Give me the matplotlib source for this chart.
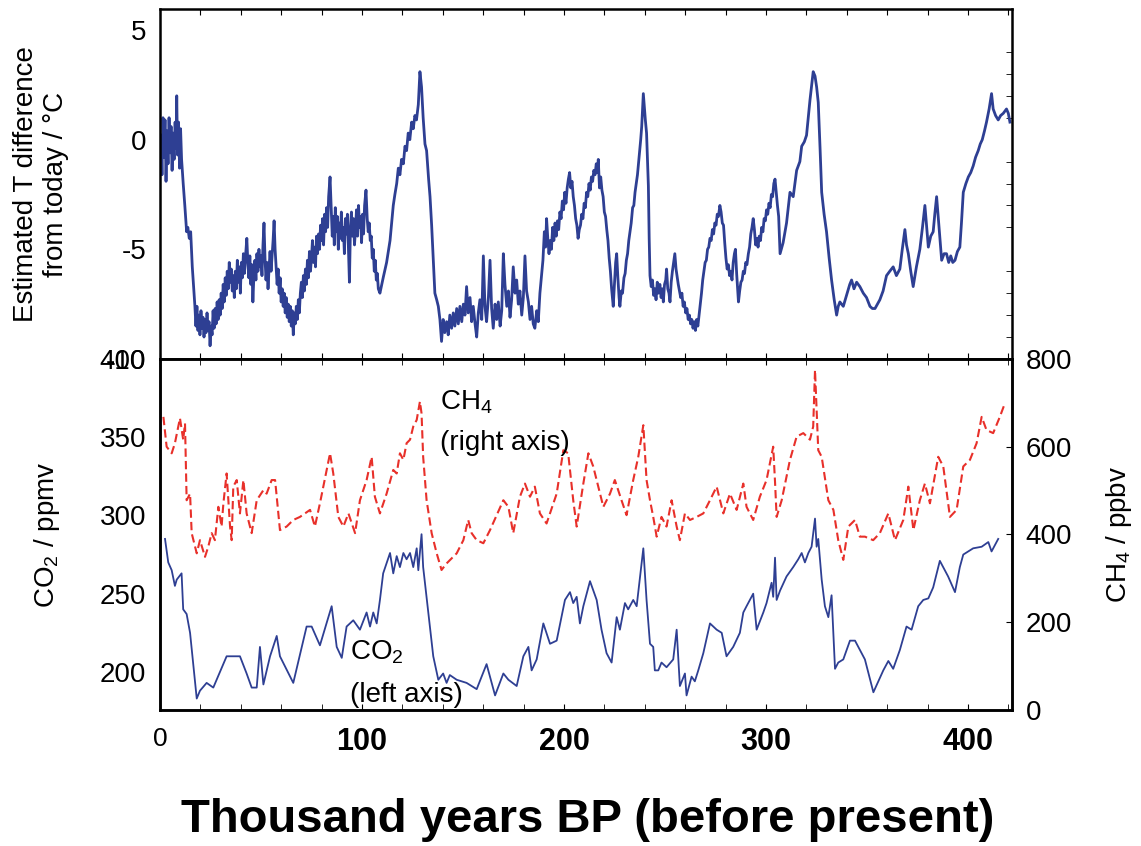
import matplotlib
matplotlib.use("Agg")
import matplotlib.pyplot as plt
from matplotlib.ticker import MultipleLocator

# temperature difference from today (deg C)
temp_age = [0.5, 1.0, 1.5, 2.0, 2.5, 3.0, 3.5, 4.0, 4.5, 5.0,
            5.5, 6.0, 6.5, 7.0, 7.5, 8.0, 8.3, 8.7, 9.2, 9.7,
            10.2, 10.7, 11.5, 12.3, 13.2, 13.8, 14.5, 15.2, 16.0, 16.8,
            17.3, 17.8, 18.3, 18.8, 19.3, 19.8, 20.3, 20.8, 21.3, 21.8,
            22.3, 22.8, 23.3, 23.8, 24.3, 24.8, 25.3, 25.8, 26.3, 26.8,
            27.3, 27.8, 28.3, 28.8, 29.3, 29.8, 30.3, 30.8, 31.3, 31.8,
            32.3, 32.8, 33.3, 33.8, 34.3, 34.8, 35.3, 35.8, 36.3, 36.8,
            37.3, 37.8, 38.3, 38.8, 39.3, 39.8, 40.3, 40.8, 41.3, 41.8,
            42.3, 43.0, 43.5, 44.0, 44.5, 45.0, 45.5, 46.0, 46.5, 47.0,
            47.5, 48.0, 48.5, 49.0, 49.5, 50.0, 50.5, 51.0, 51.5, 52.0,
            52.5, 53.0, 53.5, 54.0, 54.5, 55.0, 55.5, 56.0, 56.5, 57.0,
            57.5, 58.0, 58.5, 59.0, 59.5, 60.0, 60.5, 61.0, 61.5, 62.0,
            62.5, 63.0, 63.5, 64.0, 64.5, 65.0, 65.5, 66.0, 66.5, 67.0,
            67.5, 68.0, 68.5, 69.0, 69.5, 70.0, 70.5, 71.0, 71.5, 72.0,
            72.5, 73.0, 73.5, 74.0, 74.5, 75.0, 75.5, 76.0, 76.5, 77.0,
            77.5, 78.0, 78.5, 79.0, 79.5, 80.0, 80.5, 81.0, 81.5, 82.0,
            82.5, 83.0, 83.5, 84.2, 84.8, 85.3, 85.8, 86.3, 86.8, 87.3,
            87.8, 88.3, 88.8, 89.3, 89.8, 90.3, 90.8, 91.3, 91.8, 92.3,
            92.8, 93.3, 93.8, 94.3, 94.8, 95.3, 95.8, 96.3, 96.8, 97.3,
            97.8, 98.3, 98.8, 99.3, 99.8, 100.3, 100.8, 101.3, 102.0, 102.6,
            103.1, 103.6, 104.1, 104.6, 105.1, 105.6, 106.1, 106.6, 107.1, 107.6,
            108.1, 108.9, 110.5, 112.2, 113.9, 115.5, 116.3, 117.2, 118.0, 118.8,
            119.6, 120.5, 121.3, 122.1, 122.9, 123.7, 124.6, 125.4, 126.2, 127.0,
            127.9, 128.7, 129.5, 130.3, 131.2, 132.0, 133.0, 133.7, 134.5, 135.3,
            136.1, 137.0, 137.8, 138.6, 139.4, 140.2, 141.0, 141.9, 142.7, 143.5,
            144.4, 145.2, 146.0, 146.9, 147.7, 148.5, 149.4, 150.2, 151.0, 151.8,
            152.6, 153.5, 154.3, 155.1, 156.0, 156.8, 157.6, 158.4, 159.3, 160.1,
            160.9, 161.7, 162.6, 163.4, 164.2, 165.0, 165.9, 166.7, 167.5, 168.4,
            169.2, 170.0, 170.8, 171.7, 172.5, 173.3, 174.1, 174.9, 175.8, 176.6,
            177.4, 178.2, 179.1, 179.9, 180.7, 181.5, 182.4, 183.2, 184.0, 184.8,
            185.6, 186.5, 187.3,
            188.1, 188.9, 189.6, 190.3, 190.9, 191.4, 192.0, 192.6, 193.2, 193.8,
            194.4, 195.0, 195.6, 196.2, 196.8, 197.4, 198.0, 198.6, 199.2, 199.8,
            200.4, 201.0, 201.6, 202.2, 202.8, 203.4, 204.0, 204.6, 205.2, 205.8,
            206.4, 207.0, 207.6, 208.2, 208.8, 209.4, 210.0, 210.6, 211.2, 211.8,
            212.4, 213.0, 213.6, 214.2, 214.8, 215.4, 216.0, 216.6, 217.0, 217.6,
            218.2, 218.8, 219.4, 220.0, 220.6, 221.2, 221.8, 222.4, 223.0, 223.6,
            224.4, 225.0, 225.6, 226.1, 226.7, 227.3, 227.7, 228.4, 229.0, 229.7,
            230.3, 230.9, 231.5, 232.1, 232.7, 233.3, 234.0, 234.6, 235.2, 235.8,
            236.4, 236.8, 237.4, 238.0, 238.5, 239.0, 239.3, 239.8, 240.3, 240.9,
            241.4, 241.8, 242.2, 242.6, 243.2, 243.8, 244.4, 245.0, 245.6, 246.2,
            246.8, 247.5, 248.1, 248.7, 249.2, 249.8, 250.4, 250.8, 251.4, 252.0,
            252.5, 253.1, 253.7, 254.3, 254.9, 255.5, 256.1, 256.6, 257.2, 257.8,
            258.4, 259.0, 259.6, 260.3, 260.9, 261.5, 262.1, 262.7, 263.3, 263.9,
            264.5, 265.1, 265.7, 266.3, 266.9, 267.5, 268.1, 268.7, 269.3, 269.9,
            270.5, 271.1, 271.7, 272.3, 272.9, 273.5, 274.1, 274.7, 275.3, 275.9,
            276.5, 277.2, 277.8, 278.4, 279.0, 279.6, 280.2, 280.8, 281.4, 282.0,
            282.6, 283.2, 283.8, 284.4, 284.9, 285.5, 286.0, 286.4, 287.0, 287.6,
            288.2, 288.8, 289.4, 290.0, 290.6, 291.3, 291.9, 292.5, 293.1, 293.7,
            294.3, 294.9, 295.5, 296.1, 296.7, 297.3, 297.9, 298.5, 299.1, 299.7,
            300.3, 300.9, 301.5, 302.1, 302.7, 303.3, 303.9, 304.5, 305.1, 305.7,
            306.3, 307.0,
            308.5, 310.2, 311.9, 313.5, 315.2, 316.8, 317.7, 319.0, 320.1, 321.8,
            323.4, 324.3, 325.1, 325.9, 326.8, 327.6, 328.8, 330.0, 331.3, 332.5,
            333.8, 335.0, 335.8, 336.6, 338.3, 339.9, 341.5, 342.4, 343.6, 344.9,
            346.5, 348.2, 349.8, 351.5, 352.7, 354.0, 355.2, 356.4, 358.0, 359.7,
            361.3, 363.0, 364.6, 366.3, 367.5, 368.8, 369.6, 370.5, 371.7, 372.9,
            374.5, 376.2, 377.5, 378.7, 379.5, 380.4, 381.6, 382.8, 383.6, 384.5,
            385.7, 387.0, 388.2, 389.4, 390.5, 391.5, 392.5, 393.6, 394.8, 396.0,
            396.8, 397.7, 399.0, 400.2, 401.4, 402.6, 403.8, 405.1, 406.1, 407.1,
            408.2, 409.2, 410.5, 411.7, 412.5, 413.7, 415.0, 416.2, 417.5, 418.3,
            419.1, 420.0, 420.8]
temp_c = [0.2, -1.6, 1.0, -0.8, 0.9, -1.9, 0.4, -1.1, 1.0, -0.6,
          0.6, -1.4, 0.3, -0.9, 0.8, -0.4, 2.0, -0.7, 0.8, -1.3,
          0.5, -0.9, -2.0, -3.0, -4.2, -4.0, -4.5, -4.2, -5.8, -6.9,
          -7.6, -8.5, -7.6, -8.7, -8.0, -8.9, -7.8, -8.6, -8.1, -9.0,
          -8.2, -8.8, -7.9, -8.7, -8.3, -9.4, -8.5, -8.9, -7.8, -8.6,
          -7.7, -8.4, -7.4, -8.2, -7.3, -8.0, -7.0, -7.7, -6.6, -7.4,
          -6.3, -7.1, -6.0, -6.8, -5.6, -6.5, -5.9, -6.9, -6.2, -7.2,
          -6.0, -6.8, -5.5, -6.5, -5.8, -7.0, -5.6, -6.3, -5.2, -6.1,
          -5.4, -4.5, -5.6, -6.3, -5.3, -6.6, -5.7, -7.4, -6.2, -5.5,
          -6.4, -5.2, -6.0, -5.0, -5.8, -5.3, -6.2, -4.8, -3.8, -5.4,
          -6.4, -5.6, -6.8, -5.9, -5.1, -6.0, -5.3, -4.6, -3.7, -5.0,
          -5.8, -6.6, -5.9, -7.0, -6.3, -7.4, -6.8, -7.6, -7.0, -7.9,
          -7.2, -8.1, -7.5, -8.3, -7.6, -8.5, -7.8, -8.9, -7.9, -8.4,
          -7.6, -8.2, -7.3, -7.9, -7.0, -6.5, -7.2, -6.2, -6.9, -5.9,
          -6.6, -5.5, -6.3, -5.1, -6.0, -5.4, -4.6, -5.6, -4.9, -5.8,
          -4.4, -5.2, -4.3, -5.0, -3.9, -4.6, -3.6, -4.8, -3.4, -4.2,
          -3.1, -4.0, -2.6, -1.7, -3.2, -4.4, -3.5, -4.8, -3.1, -4.2,
          -3.5, -5.0, -3.8, -4.5, -3.3, -4.6, -4.0, -5.2, -3.6, -4.3,
          -3.4, -4.9, -6.5, -4.0, -3.3, -4.4, -3.6, -4.8, -4.1, -3.2,
          -4.4, -3.0, -4.0, -3.5, -4.7, -3.4, -4.3, -3.0, -2.3, -3.6,
          -4.2, -3.8, -4.6, -4.4, -5.4, -5.0, -6.0, -5.5, -6.4, -6.1,
          -6.8, -7.0, -6.3, -5.6, -4.6, -3.0, -2.5, -2.0, -1.3, -1.6,
          -0.9, -1.1, -0.3, -0.5, 0.3, 0.0, 0.8, 0.5, 1.1, 0.9,
          1.6, 3.1, 2.4, 1.0, -0.2, -0.5, -1.8, -2.6, -3.9, -5.5,
          -7.0, -7.3, -7.6, -8.2, -9.2, -8.2, -8.8, -8.3, -8.9, -8.0,
          -8.6, -7.9, -8.5, -7.7, -8.4, -7.6, -8.3, -7.5, -8.0, -6.7,
          -7.9, -7.2, -8.3, -7.6, -8.4, -9.0, -7.9, -7.3, -8.2, -5.3,
          -7.6, -8.3, -7.2, -5.5, -7.7, -8.6, -7.5, -8.2, -7.4, -8.5,
          -7.8, -5.2, -6.6, -7.6, -6.9, -8.1, -7.3, -5.8, -7.0, -6.4,
          -7.5, -6.9, -8.0, -7.2, -5.3, -6.9, -7.4, -8.2, -7.6, -8.4,
          -8.6, -7.8, -8.3,
          -7.0, -6.2, -5.5, -4.2, -4.9, -3.6, -4.5, -5.2, -4.6, -5.0,
          -4.0, -4.6, -3.8, -4.4, -3.7, -4.1, -3.3, -3.6, -2.8, -3.2,
          -2.4, -2.9, -2.2, -1.8, -1.5, -2.2, -1.9, -2.6, -3.0, -3.6,
          -3.9, -4.5, -4.1, -3.9, -3.4, -3.6, -2.9, -3.1, -2.4, -2.6,
          -2.0, -2.3, -1.7, -1.9, -1.4, -1.6, -1.1, -1.5, -0.9, -2.2,
          -1.7, -2.3, -2.6, -3.3, -3.5, -4.1, -4.6, -5.4, -6.0, -6.8,
          -7.6, -6.6, -5.6, -5.2, -6.3, -7.2, -7.6, -6.9, -7.0, -6.3,
          -6.1, -5.5, -5.2, -4.6, -4.2, -3.8, -3.1, -3.0, -2.4, -2.0,
          -1.6, -1.2, -0.6, 0.0, 0.6, 1.6, 2.1, 1.5, 0.9, 0.3,
          -1.0, -2.1, -4.5, -6.2, -6.7, -6.4, -7.1, -6.8, -7.3, -6.5,
          -7.0, -6.6, -7.2, -6.8, -7.4, -6.6, -6.4, -5.9, -6.8, -7.0,
          -7.4, -6.5, -6.0, -5.6, -5.2, -5.9, -6.3, -6.6, -6.9, -7.2,
          -7.0, -7.6, -7.4, -7.9, -7.7, -8.2, -8.0, -8.4, -8.2, -8.6,
          -8.3, -8.7, -8.2, -8.5, -8.0, -7.5, -7.0, -6.4, -6.0, -5.6,
          -5.5, -5.0, -4.9, -4.5, -4.6, -4.1, -4.3, -3.8, -3.9, -3.4,
          -3.5, -3.0, -3.3, -3.8, -3.9, -4.7, -5.4, -5.9, -5.7, -6.2,
          -6.0, -6.4, -5.6, -5.2, -5.0, -6.1, -6.8, -7.4, -6.9, -6.5,
          -6.4, -6.0, -6.1, -5.6, -5.7, -5.2, -4.9, -4.3, -4.0, -3.6,
          -4.1, -4.8, -4.5, -4.9, -4.4, -4.6, -4.0, -4.2, -3.6, -3.7,
          -3.2, -3.4, -2.9, -3.1, -2.5, -2.6, -2.0, -1.8, -2.4, -3.0,
          -3.5, -5.2,
          -4.7, -3.8, -2.4, -2.6, -1.4, -1.0, -0.3, -0.1, 0.2, 1.8,
          3.1, 2.9, 2.4, 1.7, -0.4, -2.4, -3.4, -4.2, -5.4, -6.4,
          -7.3, -8.0, -7.6, -7.4, -7.6, -7.1, -6.6, -6.4, -6.8, -6.5,
          -6.7, -7.0, -7.2, -7.6, -7.7, -7.7, -7.5, -7.3, -6.9, -6.2,
          -6.0, -5.8, -6.2, -5.9, -5.0, -4.1, -4.8, -5.2, -6.0, -6.7,
          -5.8, -5.0, -4.0, -3.0, -3.9, -4.9, -4.4, -4.2, -3.4, -2.6,
          -4.0, -5.5, -5.2, -5.2, -5.6, -5.3, -5.6, -5.5, -5.1, -4.9,
          -3.8, -2.4, -2.0, -1.7, -1.5, -1.2, -0.8, -0.5, -0.2, 0.0,
          0.4, 0.8, 1.4, 2.1, 1.4, 1.1, 0.9, 1.1, 1.2, 1.3,
          1.4, 1.2, 0.8]

# CO2 (ppmv, left axis of lower panel)
co2_age = [2.5, 4.1, 5.8, 7.4, 8.3, 10.7, 11.5, 13.2, 14.9, 18.2,
           19.8, 23.1, 26.4, 33.0, 39.6, 42.9, 45.4, 47.9, 49.5, 51.2,
           54.5, 57.8, 59.4, 66.0, 72.6, 75.1, 79.2, 85.0, 87.5, 90.0,
           92.4, 95.7, 99.0, 102.3, 104.0, 105.6, 107.3, 108.9, 110.5, 113.9,
           115.5, 117.2, 118.8, 120.5, 122.1, 123.8, 125.4, 127.1, 127.9, 129.5,
           130.3, 135.3, 137.8, 140.2, 141.9, 143.5, 146.9, 151.8, 156.8, 161.7,
           165.9, 170.0, 172.5, 176.6, 179.9, 182.4, 184.0, 186.5, 189.8, 193.1,
           196.4, 200.5, 203.0, 204.6, 206.3, 207.9, 209.6, 212.9, 216.2, 218.6,
           221.1, 223.6, 226.1, 227.7, 230.2, 231.8, 234.3, 236.0, 239.3, 240.9,
           242.6, 244.2, 245.0, 246.7, 248.3, 250.8, 254.1, 255.8, 257.4, 259.9,
           260.7, 263.2, 264.8, 266.5, 269.0, 272.3, 275.6, 278.1, 280.5, 283.8,
           287.1, 288.8, 290.4, 293.7, 295.4, 298.7, 300.3, 302.8, 303.6, 304.5,
           305.3, 307.0, 310.2, 313.5, 316.0, 317.7, 319.3, 321.0, 322.6, 324.3,
           325.1, 325.9, 327.6, 329.2, 330.9, 332.5, 334.2, 335.8, 338.3, 341.6,
           344.1, 349.0, 353.2, 358.1, 360.6, 363.0, 366.3, 369.6, 372.1, 375.4,
           377.9, 380.4, 382.8, 386.1, 390.2, 393.6, 396.0, 397.7, 402.6, 406.8,
           410.1, 411.7, 415.0]
co2_ppmv = [285, 270, 265, 255, 259, 263, 240, 237, 225, 183,
            188, 193, 190, 210, 210, 199, 190, 190, 216, 192,
            210, 223, 210, 193, 229, 229, 217, 242, 216, 209,
            229, 233, 227, 238, 229, 238, 231, 246, 263, 276,
            263, 274, 267, 276, 272, 276, 267, 279, 265, 288,
            267, 210, 195, 199, 193, 198, 195, 193, 189, 205,
            185, 199, 195, 191, 210, 216, 201, 208, 231, 218,
            220, 246, 251, 244, 248, 231, 242, 258, 246, 227,
            212, 206, 235, 227, 244, 240, 246, 242, 279, 246,
            218, 216, 201, 201, 206, 203, 208, 227, 191, 199,
            185, 197, 194, 201, 212, 231, 227, 225, 210, 216,
            225, 238, 242, 250, 227, 238, 244, 257, 248, 273,
            246, 252, 261, 267, 272, 276, 270, 276, 280, 298,
            280, 285, 259, 242, 235, 249, 202, 206, 208, 220,
            220, 208, 187, 201, 207, 202, 214, 229, 227, 242,
            246, 247, 254, 271, 261, 251, 267, 275, 279, 280,
            283, 277, 285]

# CH4 (ppbv, right axis of lower panel)
ch4_age = [1.7, 3.3, 5.8, 7.4, 9.9, 11.5, 12.4, 13.2, 14.9, 15.7,
           18.2, 19.8, 22.3, 23.9, 25.6, 27.2, 28.9, 30.5, 31.4, 33.0,
           34.7, 35.5, 36.3, 38.0, 39.6, 41.3, 42.9, 45.4, 47.9, 51.2,
           52.8, 55.3, 57.0, 59.4, 62.7, 66.0, 69.3, 74.3, 76.7, 79.2,
           84.2, 85.8, 88.3, 90.8, 93.3, 96.6, 99.0, 102.3, 104.8, 106.4,
           108.9, 112.2, 115.5, 117.2, 118.8, 120.5, 122.1, 123.8, 125.4, 127.1,
           128.7, 129.5, 130.3, 132.0, 134.5, 137.0, 139.4, 141.9, 146.9, 150.2,
           152.6, 154.3, 156.8, 160.1, 163.4, 170.0, 172.5, 174.9, 178.2, 180.7,
           183.2, 185.6, 188.1, 191.4, 196.4, 199.7, 202.1, 204.6, 206.3, 209.6,
           212.1, 214.5, 217.0, 219.5, 222.8, 225.2, 228.5, 231.0, 234.3, 236.8,
           239.3, 240.9, 242.6, 244.2, 245.9, 248.3, 250.8, 253.3, 255.8, 257.4,
           259.9, 262.4, 265.7, 269.0, 272.3, 275.6, 278.9, 282.2, 285.5, 288.8,
           290.4, 293.7, 297.0, 300.3, 303.6, 304.5, 305.3, 307.8, 311.9, 315.2,
           318.5, 321.8, 323.4, 324.3, 325.9, 327.6, 330.9, 333.4, 335.8, 338.3,
           340.8, 344.1, 346.5, 349.0, 353.1, 356.4, 360.6, 363.9, 368.0, 370.5,
           373.0, 376.2, 378.7, 381.2, 385.3, 387.8, 391.1, 394.4, 397.7, 401.0,
           404.3, 406.8, 409.2, 412.5, 415.8, 418.3]
ch4_ppbv = [668, 600, 585, 608, 665, 616, 653, 478, 493, 403,
            357, 387, 349, 372, 403, 387, 463, 418, 471, 539,
            418, 387, 509, 524, 448, 524, 448, 403, 478, 501,
            493, 524, 524, 410, 418, 433, 440, 456, 418, 471,
            585, 539, 440, 418, 448, 403, 478, 524, 577, 486,
            448, 493, 547, 539, 585, 570, 608, 616, 646, 661,
            703, 676, 577, 478, 403, 357, 319, 334, 357, 387,
            433, 403, 387, 380, 410, 478, 463, 403, 486, 516,
            486, 509, 448, 425, 493, 592, 585, 478, 418, 516,
            585, 555, 509, 463, 493, 524, 478, 444, 524, 577,
            649, 524, 478, 440, 395, 440, 418, 478, 418, 387,
            448, 433, 440, 448, 478, 509, 448, 493, 456, 516,
            463, 433, 486, 524, 600, 520, 440, 478, 570, 623,
            631, 616, 646, 775, 592, 577, 478, 456, 387, 342,
            418, 433, 395, 395, 387, 403, 448, 387, 433, 509,
            410, 478, 516, 471, 577, 555, 440, 456, 555, 570,
            608, 668, 638, 631, 668, 699]

x_ticks = [0, 100, 200, 300, 400]
x_tick_labels = ["0", "100", "200", "300", "400"]
t_ticks = [-10, -5, 0, 5]
co2_ticks = [200, 250, 300, 350, 400]
ch4_ticks = [0, 200, 400, 600, 800]

plt.rcParams["font.family"] = ["Liberation Sans", "DejaVu Sans"]
plt.rcParams["mathtext.default"] = "regular"
plt.rcParams["axes.unicode_minus"] = False

blue = "#2e3f93"
red = "#e8302a"

fig = plt.figure(figsize=(11.41, 8.46), dpi=100)
ax1 = fig.add_axes([0.1402, 0.5757, 0.7467, 0.4137])
ax2 = fig.add_axes([0.1402, 0.1608, 0.7467, 0.4149])
ax3 = ax2.twinx()

ax1.plot(temp_age, temp_c, color=blue, lw=2.0)
ax2.plot(co2_age, co2_ppmv, color=blue, lw=1.3)
ax3.plot(ch4_age, ch4_ppbv, color=red, lw=1.5, ls=(0, (4, 2)))

for ax in (ax1, ax2, ax3):
    ax.set_xlim(0, 421.8)
    for s in ax.spines.values():
        s.set_linewidth(1.8)
ax1.set_ylim(-10, 5.96)
ax2.set_ylim(175.7, 400)
ax3.set_ylim(0, 800)

# top panel ticks
ax1.set_yticks(t_ticks)
ax1.yaxis.set_minor_locator(MultipleLocator(1))
ax1.tick_params(axis="y", which="major", length=0, labelsize=20, pad=10)
ax1.tick_params(axis="y", which="minor", left=False, right=True,
                direction="in", length=4)
ax1.xaxis.set_major_locator(MultipleLocator(20))
ax1.tick_params(axis="x", direction="in", top=True, bottom=True,
                length=4, labelbottom=False)

# lower panel ticks
ax2.set_xticks(x_ticks)
ax2.set_xticklabels(x_tick_labels)
ax2.xaxis.set_minor_locator(MultipleLocator(20))
ax2.tick_params(axis="x", which="both", direction="in", top=True,
                bottom=True, length=4, pad=12)
for i, lab in enumerate(ax2.get_xticklabels()):
    if i == 0:
        lab.set_fontsize(19)
    else:
        lab.set_fontsize(22)
        lab.set_fontweight("bold")
ax2.set_yticks(co2_ticks)
ax2.tick_params(axis="y", length=0, labelsize=20, pad=10)
ax3.set_yticks(ch4_ticks)
ax3.tick_params(axis="y", direction="in", length=4, labelsize=20, pad=10)

ax1.set_ylabel("Estimated T difference\nfrom today / \u00b0C", fontsize=20,
               ha="center", va="center")
ax1.yaxis.set_label_coords(-0.140, 0.5)
ax2.set_ylabel("CO$_2$ / ppmv", fontsize=20, ha="center", va="center")
ax2.yaxis.set_label_coords(-0.133, 0.499)
ax3.set_ylabel("CH$_4$ / ppbv", fontsize=20, ha="center", va="center")
ax3.yaxis.set_label_coords(1.1256, 0.499)

ax3.text(138.6, 684, "CH$_4$", fontsize=20, ha="left", va="baseline")
ax3.text(138.6, 593, "(right axis)", fontsize=20, ha="left", va="baseline")
ax2.text(94.1, 207.7, "CO$_2$", fontsize=20, ha="left", va="baseline")
ax2.text(94.1, 180.8, "(left axis)", fontsize=20, ha="left", va="baseline")

fig.text(0.515, 0.031, "Thousand years BP (before present)", fontsize=34,
         fontweight="bold", ha="center", va="center")

fig.savefig("out.png", dpi=100)
